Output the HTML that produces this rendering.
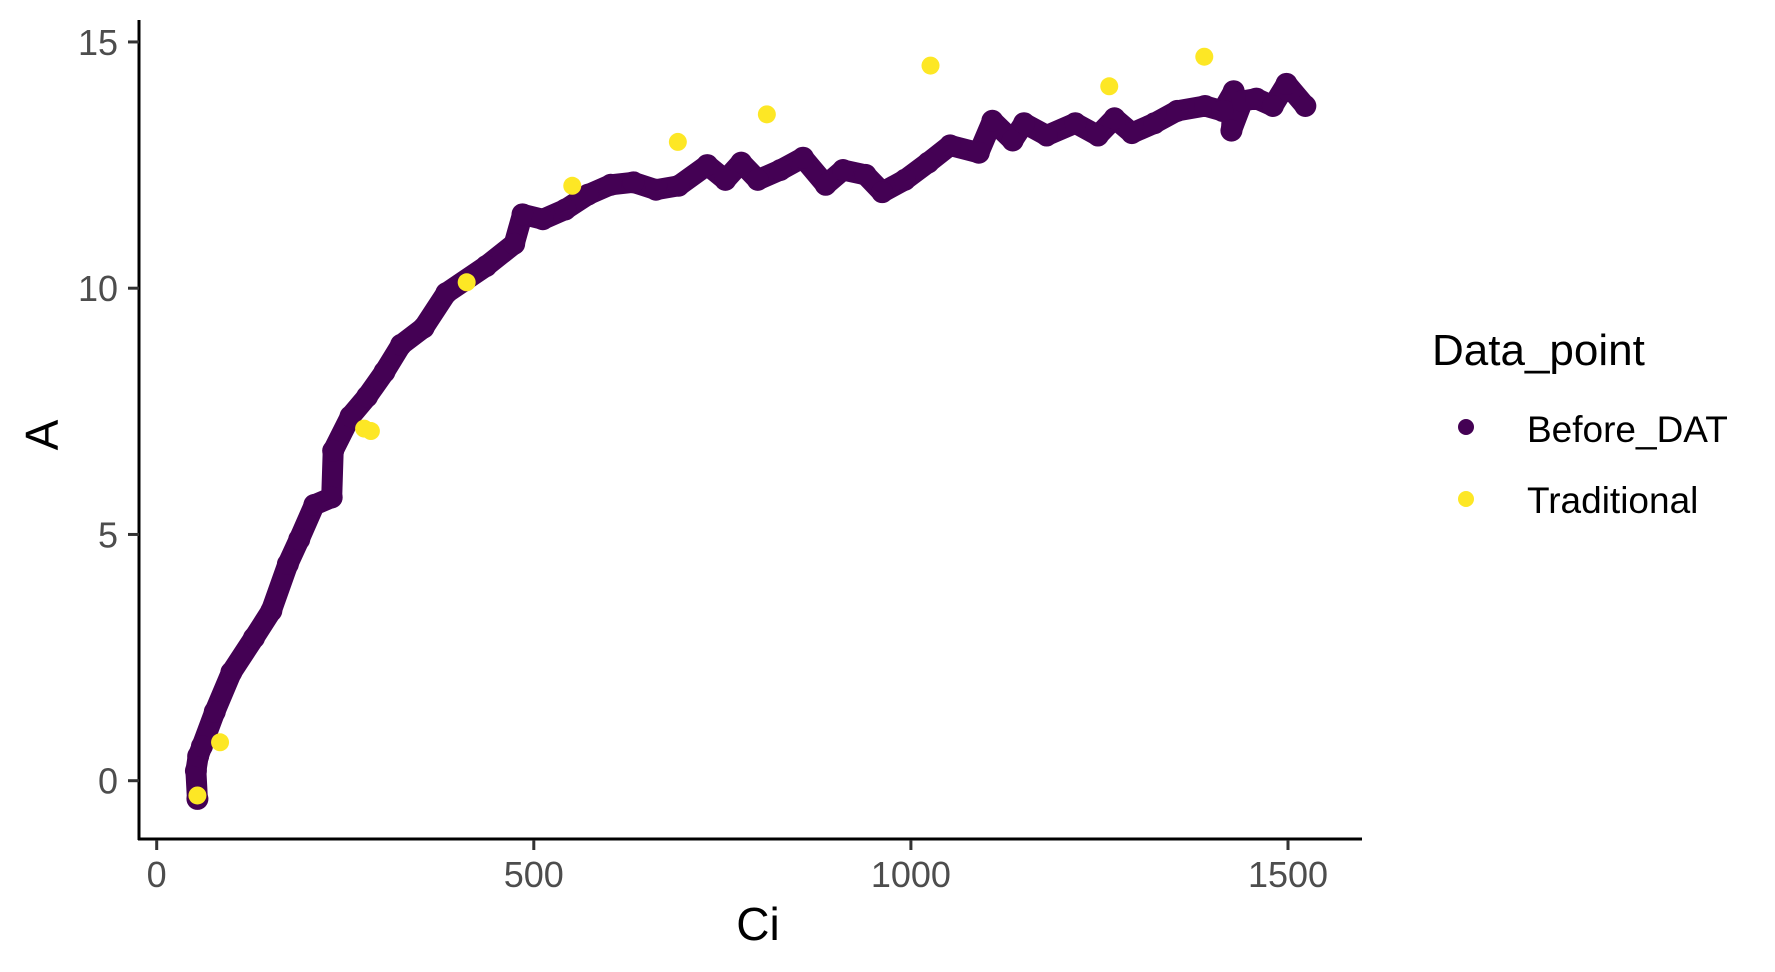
<!DOCTYPE html>
<html><head><meta charset="utf-8"><style>
html,body{margin:0;padding:0;background:#fff;}
svg{display:block;font-family:"Liberation Sans",Arial,sans-serif;}
</style></head><body>
<svg id="chart" width="1775" height="972" viewBox="0 0 1775 972">
<g id="marks"></g>
<line x1="139" y1="20" x2="139" y2="840" stroke="#000" stroke-width="3"/>
<line x1="138" y1="839" x2="1362" y2="839" stroke="#000" stroke-width="3"/>
<g id="axes"></g>
<text x="758" y="940" font-size="46" text-anchor="middle" fill="#000">Ci</text>
<text transform="translate(58,435) rotate(-90)" font-size="46" text-anchor="middle" fill="#000">A</text>
<g>
<text x="1432" y="365" font-size="44" fill="#000">Data_point</text>
<g>
<circle cx="1466" cy="427" r="8" fill="#440154"/>
<text x="1527" y="442" font-size="37" fill="#000">Before_DAT</text></g>
<g>
<circle cx="1466" cy="499" r="8" fill="#FDE725"/>
<text x="1527" y="513" font-size="37" fill="#000">Traditional</text></g>
</g>
</svg>
<script>
const beforeCi=[54,52,55,60,77,99,129,152,174,189,209,232,234,257,279,302,324,354,384,437,474,485,512,542,572,602,632,662,692,730,754,775,797,827,857,887,910,940,962,992,1023,1052,1090,1108,1135,1150,1180,1218,1248,1270,1293,1323,1353,1390,1413,1428,1425,1440,1458,1480,1498,1523];
const beforeA=[-0.37,0.2,0.5,0.7,1.4,2.2,2.9,3.45,4.4,4.9,5.6,5.75,6.7,7.4,7.8,8.3,8.85,9.2,9.9,10.45,10.9,11.5,11.4,11.6,11.9,12.1,12.15,12.0,12.08,12.5,12.2,12.55,12.2,12.4,12.65,12.1,12.4,12.3,11.95,12.2,12.55,12.9,12.75,13.4,13.0,13.35,13.1,13.35,13.1,13.45,13.15,13.35,13.6,13.7,13.6,14.0,13.2,13.8,13.85,13.7,14.15,13.7];
const tradCi=[54,84,275,284,411,551,691,809,1026,1263,1389];
const tradA=[-0.3,0.78,7.15,7.1,10.12,12.08,12.97,13.53,14.52,14.1,14.7];
const xTicks=[0,500,1000,1500];
const yTicks=[0,5,10,15];
const NS="http://www.w3.org/2000/svg";
function X(v){return 156.7+v*0.7542;}
function Y(v){return 780.7-v*49.25;}
const marks=document.getElementById('marks');
const axes=document.getElementById('axes');
let d='';
for(let i=0;i<beforeCi.length;i++){d+=(i?'L':'M')+X(beforeCi[i]).toFixed(1)+','+Y(beforeA[i]).toFixed(1);}
const p=document.createElementNS(NS,'path');
p.setAttribute('d',d);p.setAttribute('fill','none');p.setAttribute('stroke','#440154');
p.setAttribute('stroke-width','21');p.setAttribute('stroke-linejoin','round');p.setAttribute('stroke-linecap','round');


marks.appendChild(p);
for(let i=0;i<beforeCi.length;i++){
 const c=document.createElementNS(NS,'circle');
 c.setAttribute('cx',X(beforeCi[i]));c.setAttribute('cy',Y(beforeA[i]));c.setAttribute('r',11);c.setAttribute('fill','#440154');
 
 
 marks.appendChild(c);
}
for(let i=0;i<tradCi.length;i++){
 const c=document.createElementNS(NS,'circle');
 c.setAttribute('cx',X(tradCi[i]));c.setAttribute('cy',Y(tradA[i]));c.setAttribute('r',9);c.setAttribute('fill','#FDE725');
 
 
 marks.appendChild(c);
}
for(const t of xTicks){
 const l=document.createElementNS(NS,'line');
 l.setAttribute('x1',X(t));l.setAttribute('x2',X(t));l.setAttribute('y1',840);l.setAttribute('y2',850);
 l.setAttribute('stroke','#333');l.setAttribute('stroke-width','3');
 
 
 axes.appendChild(l);
 const tx=document.createElementNS(NS,'text');
 tx.setAttribute('x',X(t));tx.setAttribute('y',887);tx.setAttribute('font-size','36');tx.setAttribute('text-anchor','middle');tx.setAttribute('fill','#4d4d4d');
 tx.textContent=t;
 
 
 axes.appendChild(tx);
}
for(const t of yTicks){
 const l=document.createElementNS(NS,'line');
 l.setAttribute('x1',128);l.setAttribute('x2',139);l.setAttribute('y1',Y(t));l.setAttribute('y2',Y(t));
 l.setAttribute('stroke','#333');l.setAttribute('stroke-width','3');
 
 
 axes.appendChild(l);
 const tx=document.createElementNS(NS,'text');
 tx.setAttribute('x',118);tx.setAttribute('y',Y(t)+13);tx.setAttribute('font-size','36');tx.setAttribute('text-anchor','end');tx.setAttribute('fill','#4d4d4d');
 tx.textContent=t;
 
 
 axes.appendChild(tx);
}
</script>
</body></html>
